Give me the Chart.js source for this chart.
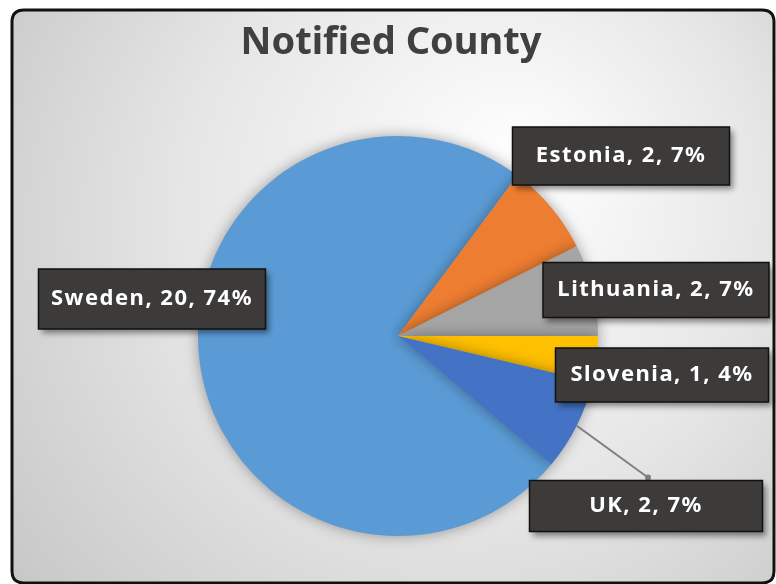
<!DOCTYPE html>
<html>
<head>
<meta charset="utf-8">
<script src="https://cdn.jsdelivr.net/npm/chart.js@4"></script>
<style>
  html, body { margin: 0; padding: 0; background: #fff; }
  #wrap { width: 776px; height: 584px; position: relative; }
</style>
</head>
<body>
<div id="wrap"><canvas id="chart" width="776" height="584"></canvas></div>
<script>
const countries = ['Sweden', 'Estonia', 'Lithuania', 'Slovenia', 'UK'];
const counts = [20, 2, 2, 1, 2];
const percents = ['74%', '7%', '7%', '4%', '7%'];
const sliceColors = ['#5B9BD5', '#ED7D31', '#A5A5A5', '#FFC000', '#4472C4'];

// label box placement, relative to pie centre
const labelPos = [
  { dx: -246, dy: -37, w: 227, h: 60 },
  { dx: 223, dy: -180, w: 217, h: 58 },
  { dx: 258, dy: -46, w: 226, h: 55 },
  { dx: 264, dy: 39, w: 213, h: 54 },
  { dx: 248, dy: 170, w: 233, h: 51, leader: true }
];

const FONT = '"Noto Sans", "Open Sans", sans-serif';

function roundRect(ctx, x, y, w, h, r) {
  ctx.beginPath();
  ctx.moveTo(x + r, y);
  ctx.lineTo(x + w - r, y);
  ctx.quadraticCurveTo(x + w, y, x + w, y + r);
  ctx.lineTo(x + w, y + h - r);
  ctx.quadraticCurveTo(x + w, y + h, x + w - r, y + h);
  ctx.lineTo(x + r, y + h);
  ctx.quadraticCurveTo(x, y + h, x, y + h - r);
  ctx.lineTo(x, y + r);
  ctx.quadraticCurveTo(x, y, x + r, y);
  ctx.closePath();
}

const framePlugin = {
  id: 'frame',
  beforeDraw(chart) {
    const ctx = chart.ctx;
    ctx.save();
    roundRect(ctx, 12, 10, 762, 573, 12);
    const g = ctx.createRadialGradient(520, 160, 20, 430, 260, 560);
    g.addColorStop(0, '#fdfdfd');
    g.addColorStop(0.5, '#e6e6e6');
    g.addColorStop(1, '#c4c4c4');
    ctx.fillStyle = g;
    ctx.fill();
    ctx.lineWidth = 3;
    ctx.strokeStyle = '#111';
    ctx.stroke();

    ctx.fillStyle = '#404040';
    ctx.font = 'bold 38px ' + FONT;
    ctx.textAlign = 'center';
    ctx.textBaseline = 'middle';
    ctx.fillText('Notified County', 391, 43);
    ctx.restore();
  },
  beforeDatasetDraw(chart) {
    const ctx = chart.ctx;
    ctx.save();
    ctx.shadowColor = 'rgba(0,0,0,0.35)';
    ctx.shadowBlur = 14;
  },
  afterDatasetDraw(chart) {
    chart.ctx.restore();
  }
};

const labelPlugin = {
  id: 'boxLabels',
  afterDatasetsDraw(chart) {
    const ctx = chart.ctx;
    const arcs = chart.getDatasetMeta(0).data;
    ctx.save();
    ctx.font = 'bold 22px ' + FONT;
    ctx.letterSpacing = '1.5px';
    ctx.textAlign = 'center';
    ctx.textBaseline = 'middle';
    arcs.forEach((arc, i) => {
      const p = labelPos[i];
      const cx = arc.x + p.dx;
      const cy = arc.y + p.dy;
      const text = countries[i] + ', ' + counts[i] + ', ' + percents[i];
      const w = p.w;
      const h = p.h;
      if (p.leader) {
        const mid = (arc.startAngle + arc.endAngle) / 2;
        const sx = arc.x + arc.outerRadius * Math.cos(mid);
        const sy = arc.y + arc.outerRadius * Math.sin(mid);
        const ex = cx + 2, ey = cy - h / 2 - 3;
        ctx.strokeStyle = '#7f7f7f';
        ctx.lineWidth = 2;
        ctx.beginPath();
        ctx.moveTo(sx, sy);
        ctx.lineTo(ex, ey);
        ctx.stroke();
        ctx.fillStyle = '#7f7f7f';
        ctx.beginPath();
        ctx.arc(ex, ey, 3, 0, Math.PI * 2);
        ctx.fill();
      }
      ctx.save();
      ctx.shadowColor = 'rgba(0,0,0,0.45)';
      ctx.shadowBlur = 6;
      ctx.shadowOffsetX = 3;
      ctx.shadowOffsetY = 4;
      ctx.fillStyle = '#3d3b3a';
      ctx.fillRect(cx - w / 2, cy - h / 2, w, h);
      ctx.restore();
      ctx.strokeStyle = '#111';
      ctx.lineWidth = 1.5;
      ctx.strokeRect(cx - w / 2, cy - h / 2, w, h);
      ctx.fillStyle = '#ffffff';
      ctx.fillText(text, cx, cy);
    });
    ctx.restore();
  }
};

new Chart(document.getElementById('chart'), {
  type: 'pie',
  data: {
    labels: countries,
    datasets: [{
      data: counts,
      backgroundColor: sliceColors,
      borderWidth: 0
    }]
  },
  options: {
    responsive: false,
    animation: false,
    rotation: 130,
    layout: { padding: { top: 136, bottom: 48, left: 20, right: 0 } },
    plugins: {
      legend: { display: false },
      title: { display: false },
      tooltip: { enabled: false }
    }
  },
  plugins: [framePlugin, labelPlugin]
});
</script>
</body>
</html>
